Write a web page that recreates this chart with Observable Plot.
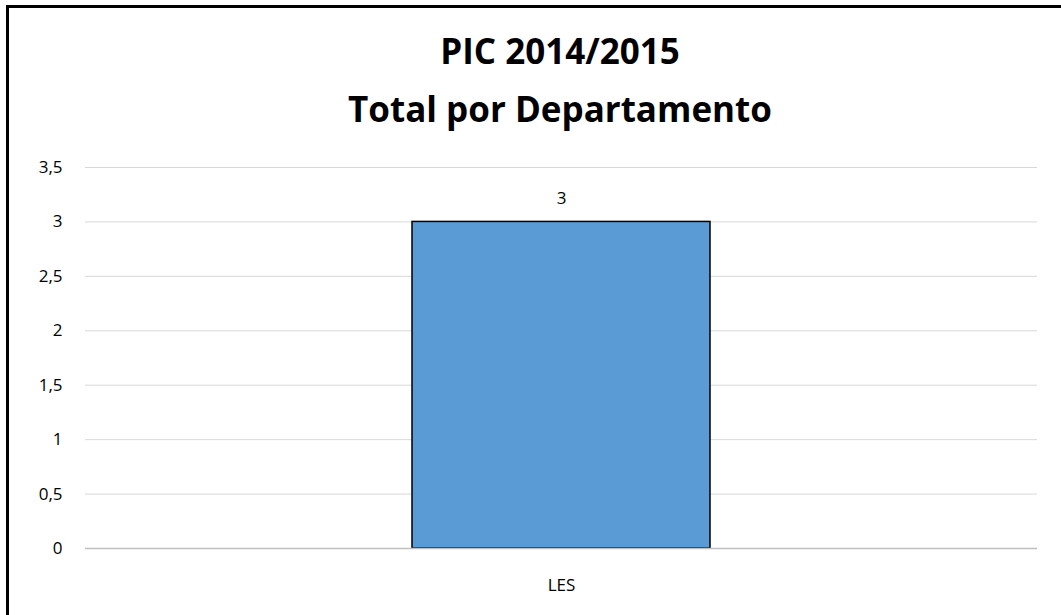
<!DOCTYPE html>
<html>
<head>
<meta charset="utf-8">
<script src="https://cdn.jsdelivr.net/npm/d3@7"></script>
<script src="https://cdn.jsdelivr.net/npm/@observablehq/plot@0.6"></script>
<style>
  html, body { margin: 0; padding: 0; background: #fff; overflow: hidden; }
  #frame { position: absolute; left: 6px; top: 5px; width: 1100px; height: 700px;
           border-left: 3px solid #000; border-top: 3px solid #000; box-sizing: border-box; }
  #wrap { position: absolute; left: 0; top: 0; width: 1061px; height: 615px; }
  #titles { height: 140px; position: relative; font-family: "Open Sans", sans-serif; font-weight: bold;
            font-size: 35px; line-height: 40px; color: #000; }
  #titles div { position: absolute; left: 60px; width: 1000px; text-align: center; }
</style>
</head>
<body>
<div id="wrap">
  <div id="titles">
    <div id="t1" style="top:31px"></div>
    <div id="t2" style="top:89px"></div>
  </div>
  <div id="chart"></div>
</div>
<div id="frame"></div>
<script>
const categories = ["LES"];
const values = [3];
const yTicks = [0, 0.5, 1, 1.5, 2, 2.5, 3, 3.5];
const titleLines = ["PIC 2014/2015", "Total por Departamento"];

document.getElementById("t1").textContent = titleLines[0];
document.getElementById("t2").textContent = titleLines[1];

const data = categories.map((c, i) => ({category: c, value: values[i]}));
const fmt = v => String(v).replace(".", ",");

const chart = Plot.plot({
  width: 1061,
  height: 475,
  marginTop: 27,
  marginBottom: 67,
  marginLeft: 85,
  marginRight: 24,
  style: { fontFamily: "'Open Sans', sans-serif", fontSize: "17px", color: "#000", background: "#fff" },
  x: { domain: categories, padding: 0.523, label: null, axis: null },
  y: { domain: [0, 3.5], label: null, axis: null },
  marks: [
    Plot.ruleY(yTicks, { stroke: "#d9d9d9", strokeWidth: 1 }),
    Plot.barY(data, { x: "category", y: "value", fill: "#5b9bd5", stroke: "#000", strokeWidth: 1.5 }),
    Plot.ruleY([0], { stroke: "#bfbfbf", strokeWidth: 1.5 }),
    Plot.axisY(yTicks, { tickSize: 0, tickPadding: 0, dx: -23, tickFormat: fmt, label: null, fontSize: 17 }),
    Plot.axisX({ tickSize: 0, tickPadding: 30, label: null, fontSize: 17 }),
    Plot.text(data, { x: "category", y: "value", text: d => fmt(d.value), dy: -23, fontSize: 17, fill: "#000" })
  ]
});
document.getElementById("chart").appendChild(chart);
</script>
</body>
</html>
